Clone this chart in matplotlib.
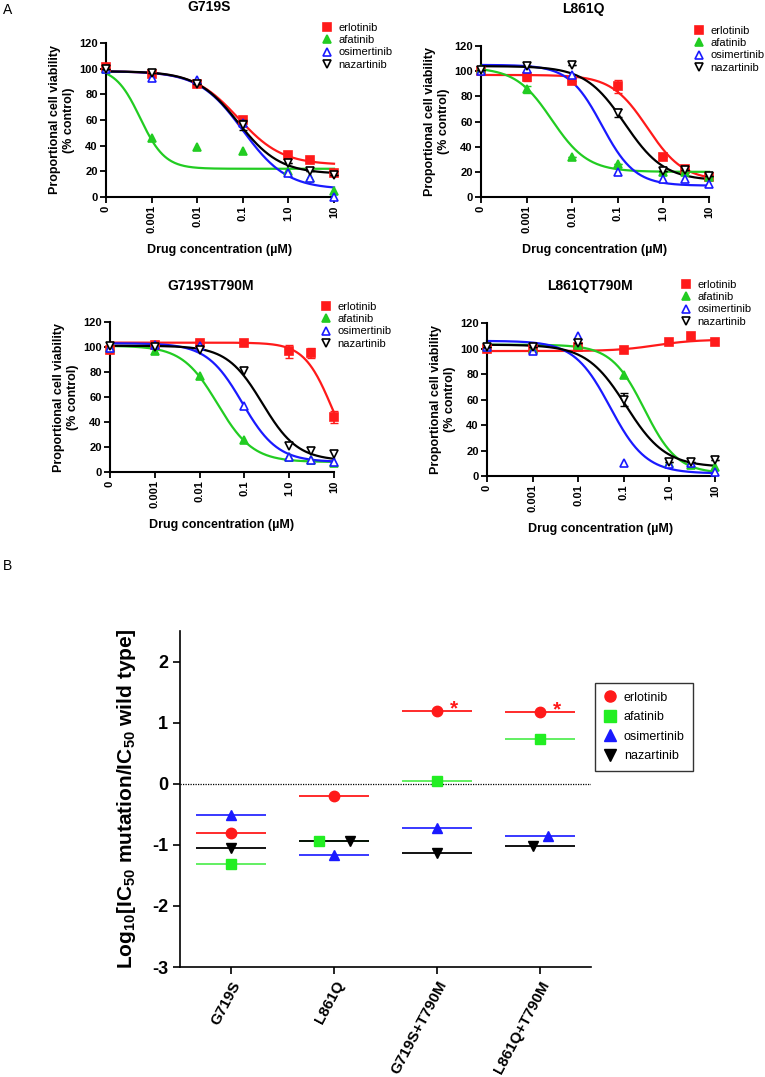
import numpy as np
import matplotlib
matplotlib.use("Agg")
import matplotlib.pyplot as plt
from matplotlib.lines import Line2D

plt.rcParams['font.family'] = ['Liberation Sans', 'DejaVu Sans']
plt.rcParams['mathtext.fontset'] = 'custom'
plt.rcParams['mathtext.bf'] = 'Liberation Sans:bold'
plt.rcParams['mathtext.rm'] = 'Liberation Sans'
plt.rcParams['axes.unicode_minus'] = False

# ---- panel A data ----
drugs = ['erlotinib', 'afatinib', 'osimertinib', 'nazartinib']
# concentration 0 is drawn at 1e-4 on the log axis
conc = [1e-4, 0.001, 0.01, 0.1, 1.0, 3.0, 10.0]
conc_ticks = [1e-4, 0.001, 0.01, 0.1, 1.0, 10.0]
conc_labels = ['0', '0.001', '0.01', '0.1', '1.0', '10']

g719s = {
    'erlotinib':   [101, 96, 88, 60, 32.5, 29, 19],
    'afatinib':    [100, 46, 39, 36, 20, 15, 5],
    'osimertinib': [100, 93, 91.5, 58, 19, 15, 0],
    'nazartinib':  [100, 97, 88, 56, 26.5, 20, 17.5],
}
l861q = {
    'erlotinib':   [100, 95, 92, 88, 32, 22, 16],
    'afatinib':    [101.5, 85.6, 32, 26, 20, 20, 16],
    'osimertinib': [100, 102, 97, 19.5, 14, 14, 10],
    'nazartinib':  [101, 104, 105, 66.6, 21, 21.7, 16.4],
}
g719s_t790m = {
    'erlotinib':   [98, 102, 103, 103.4, 96.5, 95, 44],
    'afatinib':    [99, 97, 76.5, 25.7, 12, 9.6, 7.5],
    'osimertinib': [99, 102, 101, 53, 12, 9.6, 8],
    'nazartinib':  [100.5, 99.7, 98, 81, 21, 17, 14.4],
}
l861q_t790m = {
    'erlotinib':   [99.6, 99.6, 101, 99, 105, 109.5, 104.8],
    'afatinib':    [101, 100, 103, 79, 10, 8.6, 6.8],
    'osimertinib': [101, 97.7, 109.5, 10, 9.4, 10.5, 3.4],
    'nazartinib':  [101, 101, 104, 60, 11, 11, 12.6],
}

# error bars (SD) where visible
g719s_err = {'nazartinib': [0, 0, 0, 4, 0, 0, 0]}
l861q_err = {'erlotinib': [0, 3, 0, 5, 0, 0, 0], 'afatinib': [0, 3, 0, 0, 0, 0, 0],
             'nazartinib': [0, 0, 0, 3, 0, 0, 0]}
g719s_t790m_err = {'erlotinib': [0, 0, 0, 0, 5, 4, 5]}
l861q_t790m_err = {'nazartinib': [0, 0, 0, 5, 0, 0, 0]}

# fitted dose-response curves: top, bottom, logIC50, hill slope
g719s_fit = {
    'erlotinib': (98, 25, -1.1, 0.9),
    'afatinib': (101, 22, -3.25, 1.6),
    'osimertinib': (98, 6, -1.0, 0.9),
    'nazartinib': (98, 18, -1.1, 0.95),
}
l861q_fit = {
    'erlotinib': (97, 13, -0.35, 1.1),
    'afatinib': (103, 20, -2.45, 1.1),
    'osimertinib': (105, 9, -1.35, 1.2),
    'nazartinib': (104, 13, -0.85, 1.0),
}
g719s_t790m_fit = {
    'erlotinib': (103.5, 0, 0.95, 1.4),
    'afatinib': (101, 8, -1.6, 1.1),
    'osimertinib': (103, 8, -1.05, 1.1),
    'nazartinib': (101, 9, -0.6, 1.1),
}
l861q_t790m_fit = {
    'erlotinib': (98, 107, -0.3, 1.0),
    'afatinib': (103, 2, -0.55, 1.2),
    'osimertinib': (106, 2, -1.3, 1.1),
    'nazartinib': (103, 7, -0.95, 1.0),
}

# ---- panel B data ----
mutants = ['G719S', 'L861Q', 'G719S+T790M', 'L861Q+T790M']
log_ic50_ratio = {
    'erlotinib':   [-0.81, -0.20, 1.19, 1.18],
    'afatinib':    [-1.31, -0.93, 0.05, 0.73],
    'osimertinib': [-0.52, -1.17, -0.73, -0.86],
    'nazartinib':  [-1.06, -0.94, -1.13, -1.02],
}
erlotinib_sig = [False, False, True, True]

# styles
curve_style = {
    'erlotinib':   dict(color='#ff1a1a', marker='s', mfc='#ff1a1a'),
    'afatinib':    dict(color='#22cc22', marker='^', mfc='#22cc22'),
    'osimertinib': dict(color='#1a1aff', marker='^', mfc='white'),
    'nazartinib':  dict(color='black', marker='v', mfc='white'),
}
dot_style = {
    'erlotinib':   dict(color='#ff1a1a', line='#ff1a1a', marker='o'),
    'afatinib':    dict(color='#22ee22', line='#55ee55', marker='s'),
    'osimertinib': dict(color='#1a1aff', line='#2a2aff', marker='^'),
    'nazartinib':  dict(color='black', line='black', marker='v'),
}
marker_shift = {('L861Q', 'afatinib'): -0.15, ('L861Q', 'nazartinib'): 0.15,
                ('L861Q+T790M', 'osimertinib'): 0.08, ('L861Q+T790M', 'nazartinib'): -0.06}

W, H = 765, 1077
fig = plt.figure(figsize=(W / 100, H / 100), dpi=100)


def px_rect(x0, y0, x1, y1):
    return [x0 / W, 1 - y1 / H, (x1 - x0) / W, (y1 - y0) / H]


def dose_panel(rect, title, vals, fits, errs, leg_xy, title_y):
    ax = fig.add_axes(rect)
    xc = np.logspace(-4, 1, 300)
    for d in drugs:
        st = curve_style[d]
        top, bot, c, h = fits[d]
        ax.plot(xc, bot + (top - bot) / (1 + 10 ** ((np.log10(xc) - c) * h)),
                color=st['color'], lw=1.6, clip_on=False, zorder=2)
        if d in errs:
            ax.errorbar(conc, vals[d], yerr=errs[d], fmt='none', ecolor=st['color'],
                        elinewidth=1.2, capsize=3, clip_on=False, zorder=3)
        ax.plot(conc, vals[d], linestyle='none', marker=st['marker'], ms=5.5,
                mfc=st['mfc'], mec=st['color'], mew=1.2, clip_on=False, zorder=3)
    ax.set_xscale('log')
    ax.set_xlim(1e-4, 10)
    ax.set_ylim(0, 120)
    ax.set_xticks(conc_ticks)
    ax.set_xticklabels(conc_labels, rotation=90, fontweight='bold', fontsize=8)
    ax.minorticks_off()
    ax.set_yticks(range(0, 121, 20))
    for t in ax.get_yticklabels():
        t.set_fontweight('bold')
        t.set_fontsize(8)
    for s in ['top', 'right']:
        ax.spines[s].set_visible(False)
    for s in ['left', 'bottom']:
        ax.spines[s].set_linewidth(1.5)
    ax.tick_params(width=1.3, length=4, pad=2)
    ax.set_ylabel('Proportional cell viability\n(% control)', fontsize=9,
                  fontweight='bold', labelpad=3)
    ax.set_xlabel('Drug concentration (µM)', fontsize=9, fontweight='bold', labelpad=8)
    fig.text(rect[0] + rect[2] * 0.45, 1 - title_y / H, title, ha='center', va='center',
             fontsize=10, fontweight='bold')
    handles = [Line2D([], [], linestyle='none', marker=curve_style[d]['marker'], ms=5.5,
                      mfc=curve_style[d]['mfc'], mec=curve_style[d]['color'], mew=1.2)
               for d in drugs]
    ax.legend(handles, drugs, loc='upper left', bbox_to_anchor=(leg_xy[0] / W, 1 - leg_xy[1] / H),
              bbox_transform=fig.transFigure, frameon=False, fontsize=8, borderpad=0,
              borderaxespad=0, handlelength=1.0, handletextpad=0.6, labelspacing=0.2)
    return ax


dose_panel(px_rect(106, 43, 334, 197), 'G719S', g719s, g719s_fit, g719s_err, (321, 23), 7)
dose_panel(px_rect(481, 46, 709, 197), 'L861Q', l861q, l861q_fit, l861q_err, (693, 26), 9)
dose_panel(px_rect(110, 322, 334, 472), 'G719ST790M', g719s_t790m, g719s_t790m_fit,
           g719s_t790m_err, (320, 302), 286)
dose_panel(px_rect(487, 323, 715, 476), 'L861QT790M', l861q_t790m, l861q_t790m_fit,
           l861q_t790m_err, (680, 280), 286)

fig.text(3 / W, 1 - 10 / H, 'A', fontsize=10, va='center')
fig.text(3 / W, 1 - 566 / H, 'B', fontsize=10, va='center')

# ---- panel B ----
axb = fig.add_axes(px_rect(180, 631, 591, 967))
xpos = np.arange(len(mutants))
axb.axhline(0, color='black', lw=0.9, ls=(0, (1, 1)), zorder=1)
for d in drugs:
    st = dot_style[d]
    for i, m in enumerate(mutants):
        v = log_ic50_ratio[d][i]
        axb.hlines(v, i - 0.34, i + 0.34, color=st['line'], lw=1.3, zorder=2)
        axb.plot(i + marker_shift.get((m, d), 0), v, marker=st['marker'], ms=7.5,
                 color=st['color'], linestyle='none', zorder=3)
for i, sig in enumerate(erlotinib_sig):
    if sig:
        axb.text(i + 0.17, log_ic50_ratio['erlotinib'][i] + 0.03, '*', color='#ff1a1a',
                 fontsize=15, fontweight='bold', ha='center', va='center')
axb.set_xlim(-0.5, 3.5)
axb.set_ylim(-3, 2.5)
axb.set_yticks([-3, -2, -1, 0, 1, 2])
axb.set_xticks(xpos)
axb.set_xticklabels(mutants, rotation=62, ha='right', rotation_mode='anchor',
                    fontsize=11, fontweight='bold')
for t in axb.get_yticklabels():
    t.set_fontweight('bold')
    t.set_fontsize(13)
for s in ['top', 'right']:
    axb.spines[s].set_visible(False)
axb.spines['left'].set_linewidth(1.2)
axb.spines['bottom'].set_linewidth(1.2)
axb.tick_params(width=1.2, length=5)
axb.set_ylabel(r'Log$_{\mathbf{10}}$[IC$_{\mathbf{50}}$ mutation/IC$_{\mathbf{50}}$ wild type]',
               fontsize=15, fontweight='bold', labelpad=10)
hb = [Line2D([], [], linestyle='none', marker=dot_style[d]['marker'], ms=8,
             color=dot_style[d]['color']) for d in drugs]
leg = axb.legend(hb, drugs, loc='upper left', bbox_to_anchor=(595 / W, 1 - 683 / H),
                 bbox_transform=fig.transFigure, fontsize=9, frameon=True, fancybox=False,
                 edgecolor='black', handlelength=1.0, handletextpad=0.6, labelspacing=0.6,
                 borderpad=0.7, borderaxespad=0)
leg.get_frame().set_linewidth(1.0)

fig.savefig('out.png', dpi=100)
